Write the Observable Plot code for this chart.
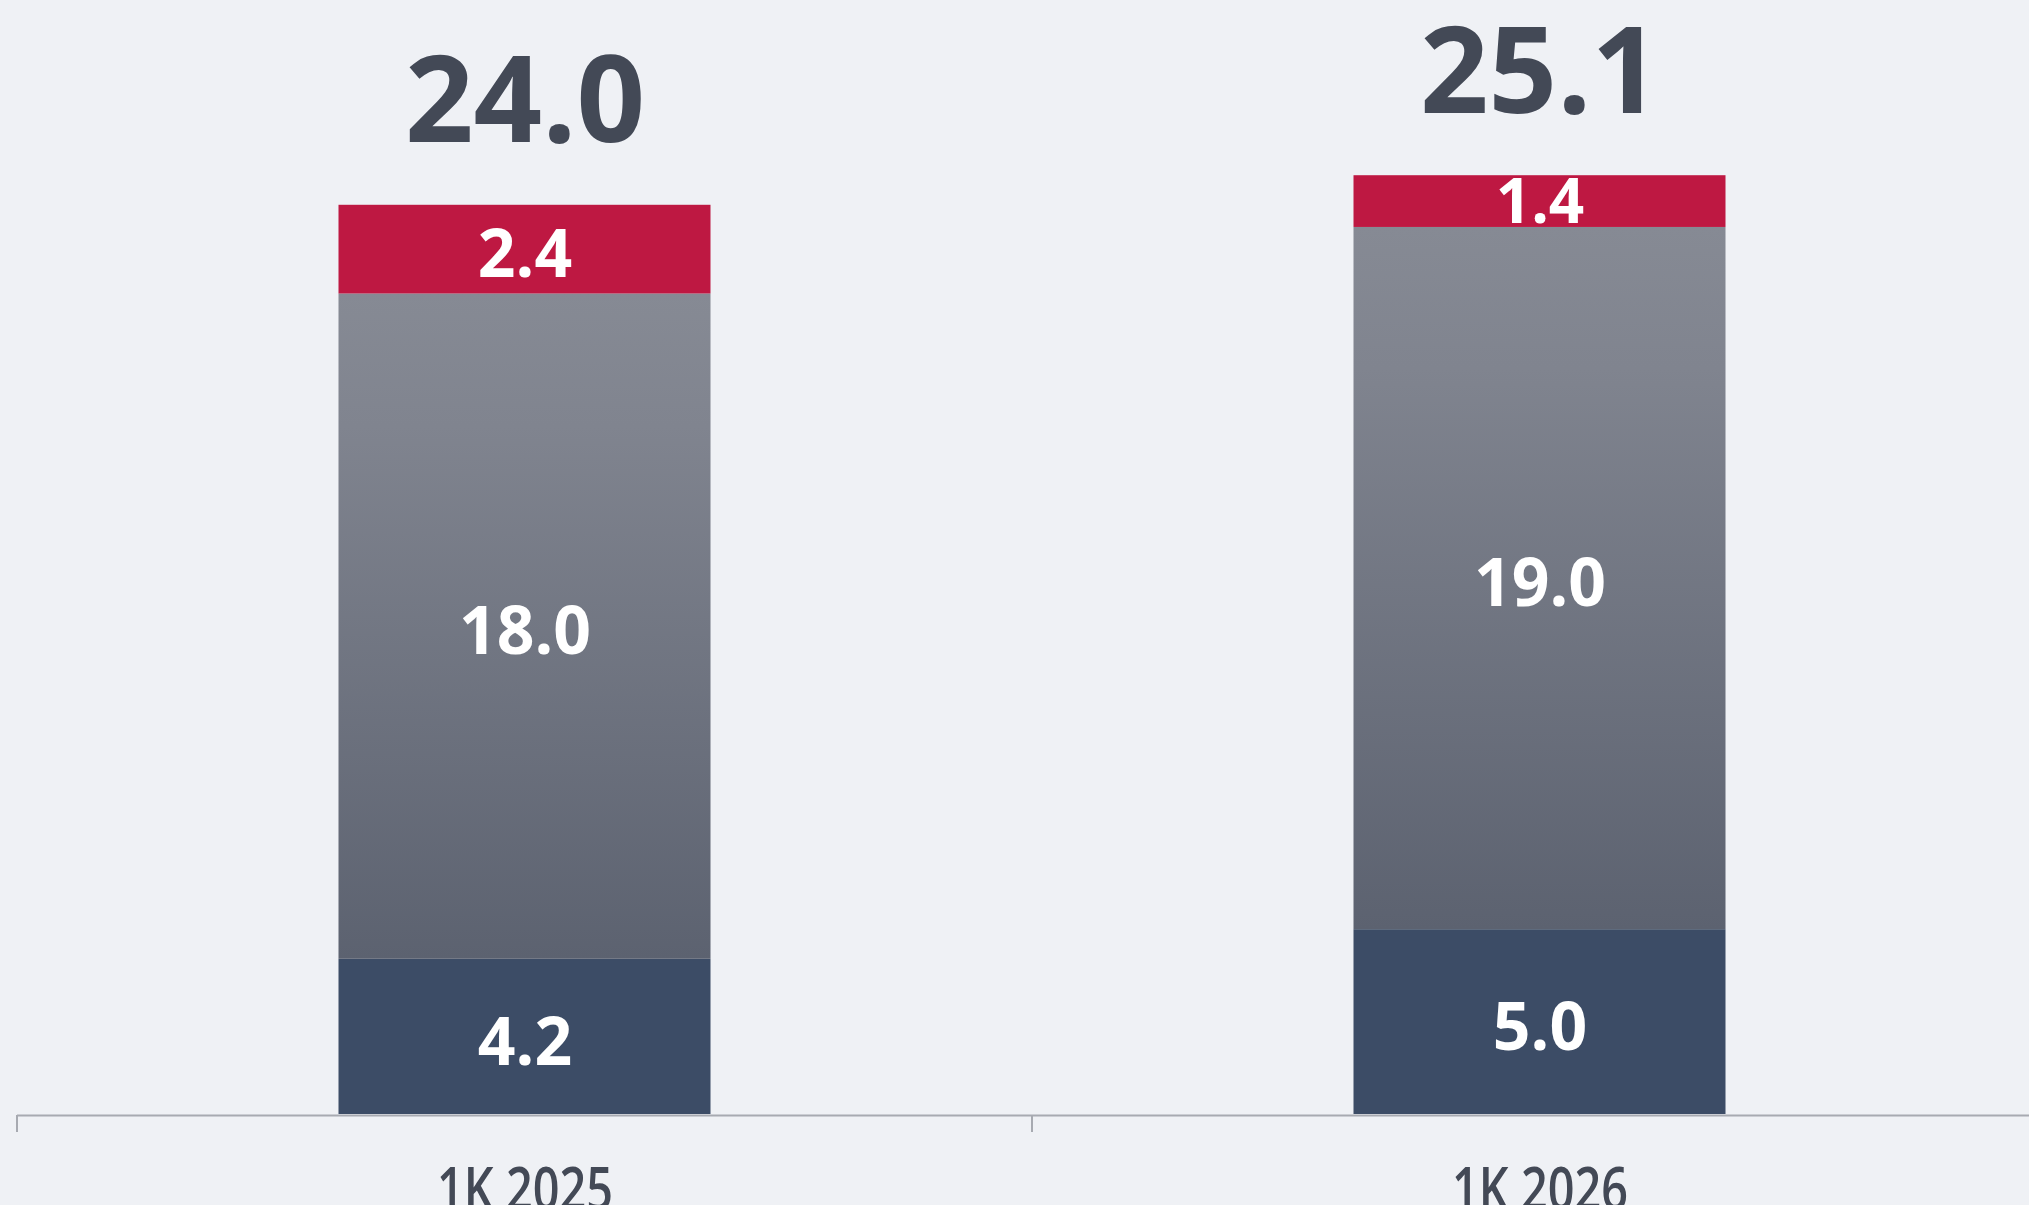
<!DOCTYPE html>
<html>
<head>
<meta charset="utf-8">
<script src="https://cdn.jsdelivr.net/npm/d3@7"></script>
<script src="https://cdn.jsdelivr.net/npm/@observablehq/plot@0.6"></script>
<style>
  html, body { margin: 0; padding: 0; background: #eff1f5; overflow: hidden; }
  #chart svg { display: block; }
</style>
</head>
<body>
<div id="chart"></div>
<script>
// ---- data ----
const categories = ["1K 2025", "1K 2026"];
const seriesKeys = ["bottom", "middle", "top"];
const bottomValues = [4.2, 5.0];
const middleValues = [18.0, 19.0];
const topValues = [2.4, 1.4];
const totalLabels = [24.0, 25.1];

// ---- styles ----
const seriesColors = ["#3c4c66", "url(#grayGrad)", "#be1842"];
const textDark = "#434956";
const axisColor = "#a7aab1";

const valuesBySeries = [bottomValues, middleValues, topValues];
const rows = [];
categories.forEach((cat, i) => {
  seriesKeys.forEach((s, j) => rows.push({cat, series: s, value: valuesBySeries[j][i]}));
});
const totalRows = categories.map((cat, i) => ({
  cat,
  stackTop: bottomValues[i] + middleValues[i] + topValues[i],
  label: totalLabels[i]
}));

const fmt = v => v.toFixed(1);

const defsMark = () => {
  const defs = d3.create("svg:defs");
  const g = defs.append("linearGradient")
    .attr("id", "grayGrad").attr("x1", 0).attr("y1", 0).attr("x2", 0).attr("y2", 1);
  g.append("stop").attr("offset", "0%").attr("stop-color", "#868a94");
  g.append("stop").attr("offset", "20%").attr("stop-color", "#80848f");
  g.append("stop").attr("offset", "100%").attr("stop-color", "#5c6270");
  return defs.node();
};

const tickMark = (index, scales) => {
  const g = d3.create("svg:g").attr("aria-label", "band-ticks");
  categories.forEach(c => {
    const x = scales.x(c);
    g.append("line")
      .attr("x1", x).attr("x2", x)
      .attr("y1", scales.y(0) + 1).attr("y2", scales.y(0) + 18)
      .attr("stroke", axisColor).attr("stroke-width", 2);
  });
  return g.node();
};

const chart = Plot.plot({
  width: 2029,
  height: 1205,
  marginLeft: 17,
  marginRight: 0,
  marginTop: 0,
  marginBottom: 91,
  style: {background: "#eff1f5", fontFamily: "'Open Sans', sans-serif"},
  x: {type: "band", domain: categories, range: [17, 2047], padding: 0, axis: null},
  y: {domain: [0, 30], range: [1114, 1114 - 30 * 36.96], axis: null},
  color: {domain: seriesKeys, range: seriesColors},
  marks: [
    defsMark,
    Plot.barY(rows, Plot.stackY({
      x: "cat", y: "value", fill: "series",
      insetLeft: 321.5, insetRight: 321.5
    })),
    Plot.text(rows.filter(d => d.value >= 2), Plot.stackY({
      x: "cat", y: "value", text: d => fmt(d.value),
      fill: "white", fontSize: 66, fontWeight: 700,
      lineAnchor: "middle", dy: 6.5
    })),
    Plot.text(rows, Plot.stackY({
      x: "cat", y: "value", text: d => d.value < 2 ? fmt(d.value) : "",
      fill: "white", fontSize: 62, fontWeight: 700,
      lineAnchor: "middle", dy: 2
    })),
    Plot.text(totalRows, {
      x: "cat", y: "stackTop", text: d => fmt(d.label),
      fill: textDark, fontSize: 120, fontWeight: 700,
      lineAnchor: "bottom", dy: -63
    }),
    Plot.ruleY([0], {stroke: axisColor, strokeWidth: 2, dy: 1}),
    tickMark,
    Plot.text(categories, {
      x: d => d, y: () => 0, text: d => d,
      fill: textDark, fontSize: 60, fontWeight: 600,
      lineAnchor: "bottom", dy: 95
    })
  ]
});

d3.select(chart).selectAll("text")
  .filter(function() { return categories.includes(this.textContent); })
  .attr("transform", function() {
    const t = this.getAttribute("transform") || "";
    return t + " scale(0.78,1)";
  });

document.getElementById("chart").appendChild(chart);
</script>
</body>
</html>
